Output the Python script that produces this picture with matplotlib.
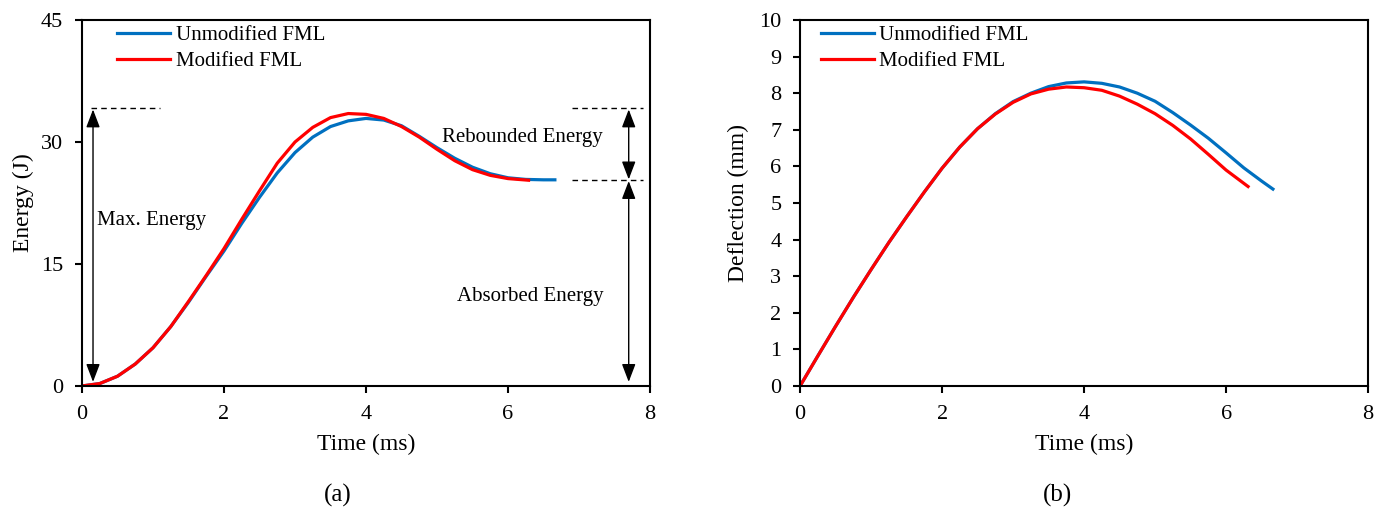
import matplotlib.pyplot as plt

plt.rcParams['font.family'] = ['Liberation Serif', 'DejaVu Serif']
plt.rcParams['font.size'] = 16

BLUE = '#0070C0'
RED = '#FF0000'

# energy-time histories (J vs ms)
t_e_unmod = [0.0, 0.25, 0.5, 0.75, 1.0, 1.25, 1.5, 1.75, 2.0, 2.25, 2.5, 2.75, 3.0, 3.25, 3.5,
             3.75, 4.0, 4.25, 4.5, 4.75, 5.0, 5.25, 5.5, 5.75, 6.0, 6.25, 6.5, 6.66]
e_unmod = [0.0, 0.3, 1.2, 2.7, 4.7, 7.3, 10.3, 13.5, 16.6, 20.0, 23.2, 26.2, 28.7, 30.6, 31.9,
           32.6, 32.9, 32.7, 32.0, 30.7, 29.3, 28.0, 26.9, 26.1, 25.6, 25.4, 25.35, 25.35]
t_e_mod = [0.0, 0.25, 0.5, 0.75, 1.0, 1.25, 1.5, 1.75, 2.0, 2.25, 2.5, 2.75, 3.0, 3.25, 3.5,
           3.75, 4.0, 4.25, 4.5, 4.75, 5.0, 5.25, 5.5, 5.75, 6.0, 6.29]
e_mod = [0.0, 0.3, 1.2, 2.7, 4.7, 7.3, 10.4, 13.6, 16.9, 20.5, 24.0, 27.4, 30.0, 31.8, 33.0,
         33.5, 33.4, 32.9, 31.9, 30.6, 29.1, 27.7, 26.6, 25.9, 25.5, 25.3]

# deflection-time histories (mm vs ms)
t_d_unmod = [0.0, 0.25, 0.5, 0.75, 1.0, 1.25, 1.5, 1.75, 2.0, 2.25, 2.5, 2.75, 3.0, 3.25, 3.5,
             3.75, 4.0, 4.25, 4.5, 4.75, 5.0, 5.25, 5.5, 5.75, 6.0, 6.25, 6.5, 6.66]
d_unmod = [0.0, 0.82, 1.63, 2.42, 3.18, 3.92, 4.62, 5.3, 5.95, 6.53, 7.03, 7.44, 7.77, 8.0, 8.18,
           8.28, 8.31, 8.27, 8.17, 8.0, 7.78, 7.47, 7.13, 6.77, 6.37, 5.96, 5.6, 5.38]
t_d_mod = [0.0, 0.25, 0.5, 0.75, 1.0, 1.25, 1.5, 1.75, 2.0, 2.25, 2.5, 2.75, 3.0, 3.25, 3.5,
           3.75, 4.0, 4.25, 4.5, 4.75, 5.0, 5.25, 5.5, 5.75, 6.0, 6.31]
d_mod = [0.0, 0.82, 1.63, 2.42, 3.18, 3.92, 4.62, 5.3, 5.95, 6.53, 7.03, 7.43, 7.75, 7.98, 8.11,
         8.17, 8.15, 8.08, 7.92, 7.7, 7.44, 7.12, 6.75, 6.33, 5.9, 5.45]

e_max = 34.2
e_abs = 25.3

fig = plt.figure(figsize=(13.83, 5.08), dpi=100)
ax1 = fig.add_axes([0.0593, 0.2402, 0.4107, 0.7204])
ax2 = fig.add_axes([0.5785, 0.2402, 0.4107, 0.7204])

legend_kw = dict(loc='upper left', frameon=False, fontsize=15, handlelength=2.55,
                 handletextpad=0.25, labelspacing=0.3, borderaxespad=0.0, borderpad=0.0)

for ax in (ax1, ax2):
    for s in ax.spines.values():
        s.set_linewidth(1.5)
    ax.tick_params(direction='out', length=5, width=1.5, labelsize=16, pad=8.5)
    ax.set_xlim(0, 8)
    ax.set_xticks([0, 2, 4, 6, 8])
    ax.set_xlabel('Time (ms)', fontsize=17, labelpad=7)

# (a) energy
ax1.plot(t_e_unmod, e_unmod, color=BLUE, lw=2.3, label='Unmodified FML')
ax1.plot(t_e_mod, e_mod, color=RED, lw=2.3, label='Modified FML')
ax1.set_ylim(0, 45)
ax1.set_yticks([0, 15, 30, 45])
ax1.set_ylabel('Energy (J)', fontsize=17, labelpad=5)

dash = dict(color='black', lw=1.0, ls=(0, (4, 3)))
ax1.plot([0.12, 1.1], [e_max, e_max], **dash)
ax1.plot([6.9, 7.9], [e_max, e_max], **dash)
ax1.plot([6.9, 7.9], [e_abs, e_abs], **dash)

arrow = dict(arrowstyle='<|-|>,head_length=1.1,head_width=0.42', color='black', lw=1.0,
             shrinkA=0, shrinkB=0, mutation_scale=10)
ax1.annotate('', xy=(0.155, 0.5), xytext=(0.155, e_max - 0.2), arrowprops=arrow)
ax1.annotate('', xy=(7.7, e_abs + 0.1), xytext=(7.7, e_max - 0.2), arrowprops=arrow)
ax1.annotate('', xy=(7.7, 0.5), xytext=(7.7, e_abs - 0.1), arrowprops=arrow)

ax1.text(0.21, 20.3, 'Max. Energy', fontsize=15, va='center', ha='left')
ax1.text(6.2, 30.5, 'Rebounded Energy', fontsize=15, va='center', ha='center')
ax1.text(6.32, 11.0, 'Absorbed Energy', fontsize=15, va='center', ha='center')

ax1.legend(bbox_to_anchor=(0.062, 0.985), **legend_kw)

# (b) deflection
ax2.plot(t_d_unmod, d_unmod, color=BLUE, lw=2.3, label='Unmodified FML')
ax2.plot(t_d_mod, d_mod, color=RED, lw=2.3, label='Modified FML')
ax2.set_ylim(0, 10)
ax2.set_yticks(range(0, 11))
ax2.set_ylabel('Deflection (mm)', fontsize=17, labelpad=7)
ax2.legend(bbox_to_anchor=(0.036, 0.985), **legend_kw)

fig.text(338 / 1383, 1 - 495 / 508, '(a)', fontsize=18, ha='center', va='center')
fig.text(1058 / 1383, 1 - 495 / 508, '(b)', fontsize=18, ha='center', va='center')

fig.savefig('out.png', dpi=100)
